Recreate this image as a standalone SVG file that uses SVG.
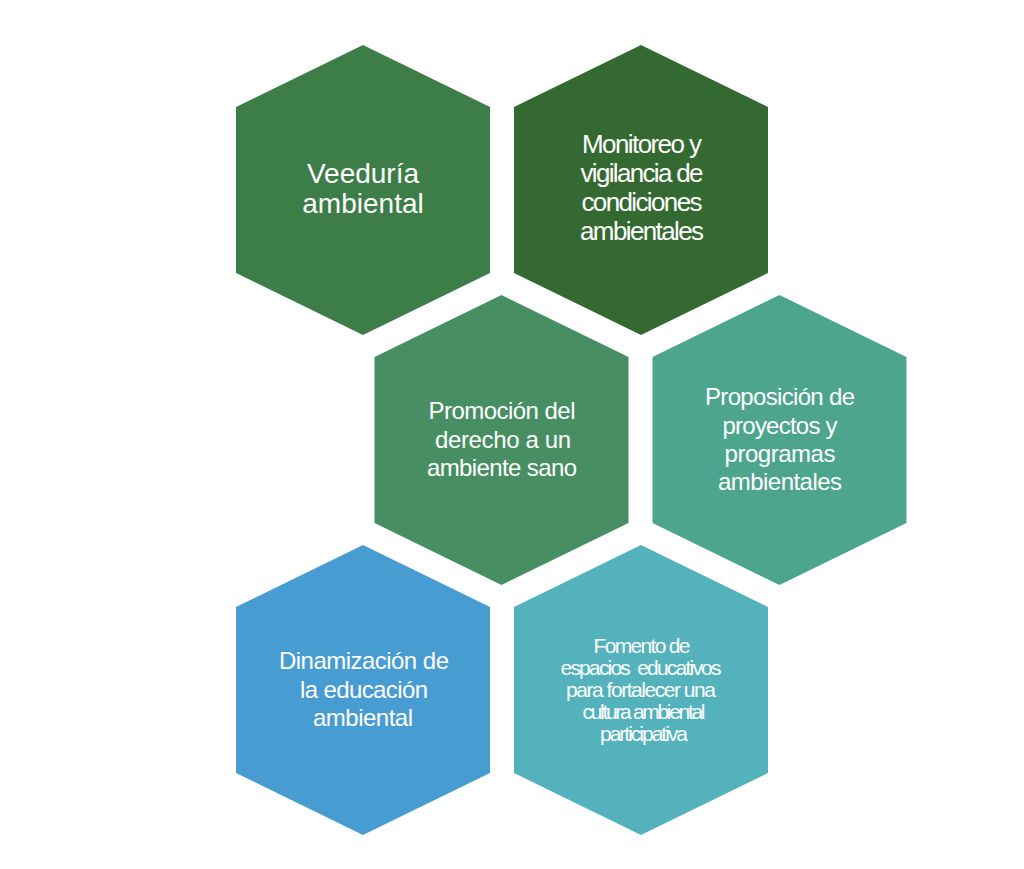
<svg xmlns="http://www.w3.org/2000/svg" width="1024" height="869" viewBox="0 0 1024 869">
  <defs>
    <style>
      .lbl { font-family: "Liberation Sans", Arial, sans-serif; fill: #ffffff; text-anchor: middle; }
      .f28 { font-size: 28px; }
      .f26 { font-size: 26px; }
      .f24 { font-size: 24px; }
      .f21 { font-size: 21px; }
    </style>
    <polygon id="hex" points="0,0 127,62 127,228 0,290 -127,228 -127,62"/>
  </defs>
  <rect width="1024" height="869" fill="#ffffff"/>
  <g id="connectors"/>

  <g id="veeduria">
    <use href="#hex" x="363" y="45" fill="#3D7D48"/>
    <text class="lbl f28" x="363" y="183">Veeduría</text>
    <text class="lbl f28" x="363" y="213">ambiental</text>
  </g>

  <g id="monitoreo">
    <use href="#hex" x="641" y="45" fill="#346A31"/>
    <text class="lbl f26" x="642" y="153" textLength="120">Monitoreo y</text>
    <text class="lbl f26" x="642" y="182" textLength="123">vigilancia de</text>
    <text class="lbl f26" x="642" y="211" textLength="121">condiciones</text>
    <text class="lbl f26" x="642" y="240" textLength="124">ambientales</text>
  </g>

  <g id="promocion">
    <use href="#hex" x="501.5" y="295" fill="#478F63"/>
    <text class="lbl f24" x="502" y="419" textLength="147">Promoción del</text>
    <text class="lbl f24" x="503" y="448" textLength="136">derecho a un</text>
    <text class="lbl f24" x="502" y="476" textLength="150">ambiente sano</text>
  </g>

  <g id="proposicion">
    <use href="#hex" x="779.5" y="295" fill="#4DA58E"/>
    <text class="lbl f24" x="780" y="405" textLength="150">Proposición de</text>
    <text class="lbl f24" x="780" y="434" textLength="115">proyectos y</text>
    <text class="lbl f24" x="780" y="462" textLength="111">programas</text>
    <text class="lbl f24" x="780" y="490" textLength="124">ambientales</text>
  </g>

  <g id="dinamizacion">
    <use href="#hex" x="363" y="545" fill="#479CD1"/>
    <text class="lbl f24" x="364" y="669" textLength="170">Dinamización de</text>
    <text class="lbl f24" x="364" y="698" textLength="128">la educación</text>
    <text class="lbl f24" x="363" y="726" textLength="100">ambiental</text>
  </g>

  <g id="fomento">
    <use href="#hex" x="641" y="545" fill="#53B2BB"/>
    <text class="lbl f21" x="642" y="653" textLength="97">Fomento de</text>
    <text class="lbl f21" x="641" y="675" textLength="161" xml:space="preserve">espacios  educativos</text>
    <text class="lbl f21" x="641" y="697" textLength="150">para fortalecer una</text>
    <text class="lbl f21" x="644" y="719" textLength="123">cultura ambiental</text>
    <text class="lbl f21" x="644" y="741" textLength="88">participativa</text>
  </g>
</svg>
